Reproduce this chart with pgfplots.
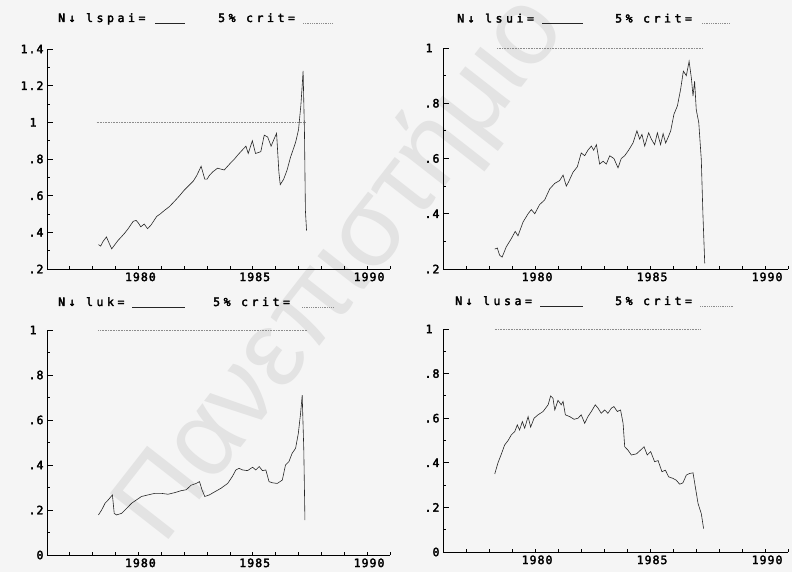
\documentclass[border=0pt]{standalone}
\usepackage{pgfplots}
\pgfplotsset{compat=1.18}
\usepackage{fontspec}
\setmainfont{Liberation Sans}
\newfontfamily\tickfont{DejaVu Sans Mono}[LetterSpace=9, FakeBold=3]
\newfontfamily\headfont{DejaVu Sans Mono}[LetterSpace=31, FakeBold=3]
\newfontfamily\markfont{Liberation Sans}

\pgfplotsset{
  panel/.style={
    scale only axis, anchor=south west,
    axis lines=left, axis line style={-, line width=0.9pt, black},
    xmin=1975, xmax=1990,
    xtick={1980,1985,1990}, xticklabels={1980,1985,1990},
    minor xtick={1976,...,1990},
    major x tick style={draw=none},
    tick align=inside,
    major tick length=6pt, minor tick length=3pt,
    tick style={black, line width=0.8pt},
    ticklabel style={font=\tickfont\fontsize{11.5}{11.5}\selectfont, text=black},
    xticklabel style={anchor=north east, xshift=-2pt},
    clip=false,
  },
  series/.style={black!85, line width=0.6pt},
  crit/.style={black!45, line width=0.6pt, densely dotted},
}

% panel heading: #1 baseline, #2 name x, #3 name, #4-#5 solid sample, #6 crit x, #7-#8 dotted sample
\newcommand{\panelhead}[8]{%
  \node[anchor=base west, inner sep=0pt, font=\headfont\fontsize{11.5}{11.5}\selectfont, text=black] at (#2pt,#1pt) {#3};
  \draw[black!85, line width=0.9pt] (#4pt,#1pt-1pt) -- (#5pt,#1pt-1pt);
  \node[anchor=base west, inner sep=0pt, font=\headfont\fontsize{11.5}{11.5}\selectfont, text=black] at (#6pt,#1pt) {5\% crit=};
  \draw[black!45, line width=0.8pt, densely dotted] (#7pt,#1pt-1pt) -- (#8pt,#1pt-1pt);
}

\begin{document}
\begin{tikzpicture}
\useasboundingbox (0pt,0pt) rectangle (792pt,572pt);
\fill[white!96!black] (0pt,0pt) rectangle (792pt,572pt);
\node[rotate=52, text=black!11, inner sep=0pt, font=\markfont\fontsize{108}{108}\selectfont] at (342pt,302pt) {Πανεπιστήμιο};

% ---- lspai ----
\panelhead{550}{58}{N↓ lspai=}{155}{185}{218}{303}{333}
\begin{axis}[panel, at={(47pt,303pt)}, width=343pt, height=220pt,
  ymin=0.2, ymax=1.4,
  ytick={0.2,0.4,0.6,0.8,1,1.2,1.4},
  yticklabels={.2,.4,.6,.8,1\hphantom{.},1.2,1.4},
  minor ytick={0.3,0.5,0.7,0.9,1.1,1.3}]
\addplot[crit] coordinates {(1977.17,1) (1986.3,1)};
\addplot[series] coordinates {
(1977.25,0.333) (1977.35,0.325) (1977.45,0.35) (1977.6,0.375) (1977.72,0.34)
(1977.83,0.31) (1977.95,0.33) (1978.1,0.355) (1978.25,0.375) (1978.4,0.396)
(1978.55,0.42) (1978.77,0.46) (1978.9,0.465) (1979.0,0.45) (1979.1,0.43)
(1979.25,0.445) (1979.4,0.42) (1979.55,0.44) (1979.8,0.487) (1979.95,0.50)
(1980.14,0.52) (1980.35,0.54) (1980.58,0.57) (1980.8,0.60) (1981.0,0.63)
(1981.2,0.655) (1981.4,0.68) (1981.55,0.71) (1981.74,0.76) (1981.9,0.69)
(1982.0,0.69) (1982.1,0.71) (1982.25,0.73) (1982.46,0.75) (1982.6,0.745)
(1982.75,0.74) (1983.04,0.78) (1983.2,0.80) (1983.33,0.82) (1983.55,0.85)
(1983.7,0.87) (1983.8,0.83) (1983.98,0.90) (1984.12,0.83) (1984.35,0.84)
(1984.5,0.93) (1984.65,0.92) (1984.8,0.87) (1984.9,0.90) (1985.04,0.94)
(1985.14,0.73) (1985.2,0.66) (1985.35,0.69) (1985.5,0.74) (1985.65,0.81)
(1985.87,0.89) (1986.0,0.96) (1986.1,1.09) (1986.16,1.20) (1986.2,1.28)
(1986.26,0.94) (1986.3,0.52) (1986.35,0.41)};
\end{axis}

% ---- lsui ----
\panelhead{549.5}{457}{N↓ lsui=}{542}{583}{615}{702}{730}
\begin{axis}[panel, at={(443pt,303pt)}, width=345pt, height=221pt,
  ymin=0.2, ymax=1,
  ytick={0.2,0.4,0.6,0.8,1},
  yticklabels={.2,.4,.6,.8,1\hphantom{.}},
  minor ytick={0.3,0.5,0.7,0.9}]
\addplot[crit] coordinates {(1977.36,1) (1986.3,1)};
\addplot[series] coordinates {
(1977.25,0.272) (1977.36,0.276) (1977.46,0.25) (1977.57,0.243) (1977.75,0.28)
(1977.97,0.31) (1978.14,0.336) (1978.26,0.32) (1978.48,0.37) (1978.70,0.40)
(1978.84,0.415) (1978.99,0.40) (1979.20,0.433) (1979.42,0.45) (1979.64,0.49)
(1979.86,0.51) (1980.07,0.52) (1980.22,0.54) (1980.36,0.50) (1980.46,0.515)
(1980.65,0.55) (1980.84,0.57) (1981.01,0.62) (1981.16,0.61) (1981.30,0.63)
(1981.45,0.645) (1981.55,0.63) (1981.67,0.65) (1981.81,0.58) (1981.96,0.59)
(1982.10,0.58) (1982.25,0.61) (1982.43,0.60) (1982.61,0.566) (1982.75,0.60)
(1982.90,0.61) (1983.07,0.63) (1983.26,0.656) (1983.43,0.70) (1983.55,0.67)
(1983.65,0.687) (1983.77,0.645) (1983.94,0.693) (1984.06,0.67) (1984.20,0.65)
(1984.32,0.693) (1984.46,0.65) (1984.57,0.69) (1984.68,0.656) (1984.78,0.675)
(1984.90,0.70) (1985.04,0.76) (1985.19,0.79) (1985.33,0.85) (1985.45,0.916)
(1985.58,0.90) (1985.70,0.952) (1985.80,0.89) (1985.87,0.826) (1985.94,0.88)
(1986.01,0.777) (1986.12,0.73) (1986.23,0.596) (1986.30,0.40) (1986.38,0.22)};
\end{axis}

% ---- luk ----
\panelhead{266}{58}{N↓ luk=}{132}{185}{213}{302}{333}
\begin{axis}[panel, at={(47pt,17pt)}, width=343pt, height=225pt,
  ymin=0, ymax=1,
  ytick={0,0.2,0.4,0.6,0.8,1},
  yticklabels={0,.2,.4,.6,.8,1\hphantom{.}},
  minor ytick={0.1,0.3,0.5,0.7,0.9}]
\addplot[crit] coordinates {(1977.25,1) (1986.38,1)};
\addplot[series] coordinates {
(1977.25,0.178) (1977.39,0.2) (1977.54,0.23) (1977.68,0.245) (1977.86,0.267)
(1977.94,0.185) (1978.04,0.178) (1978.26,0.185) (1978.48,0.207) (1978.7,0.23)
(1978.9,0.244) (1979.13,0.26) (1979.42,0.267) (1979.71,0.274) (1980,0.274)
(1980.29,0.27) (1980.58,0.277) (1980.87,0.286) (1981.09,0.29) (1981.3,0.31)
(1981.52,0.318) (1981.67,0.326) (1981.78,0.289) (1981.9,0.26) (1982.1,0.267)
(1982.32,0.28) (1982.6,0.296) (1982.9,0.318) (1983.1,0.348) (1983.26,0.378)
(1983.4,0.385) (1983.55,0.378) (1983.77,0.375) (1983.99,0.39) (1984.13,0.378)
(1984.28,0.393) (1984.42,0.375) (1984.57,0.378) (1984.71,0.326) (1984.86,0.321)
(1985.07,0.318) (1985.29,0.333) (1985.43,0.4) (1985.58,0.415) (1985.72,0.452)
(1985.87,0.474) (1985.99,0.54) (1986.09,0.63) (1986.16,0.71) (1986.23,0.467)
(1986.28,0.155)};
\end{axis}

% ---- lusa ----
\panelhead{267}{455}{N↓ lusa=}{540}{583}{615}{700}{733}
\begin{axis}[panel, at={(443pt,20pt)}, width=345pt, height=223pt,
  ymin=0, ymax=1,
  ytick={0,0.2,0.4,0.6,0.8,1},
  yticklabels={0,.2,.4,.6,.8,1\hphantom{.}},
  minor ytick={0.1,0.3,0.5,0.7,0.9}]
\addplot[crit] coordinates {(1977.25,1) (1986.16,1)};
\addplot[series] coordinates {
(1977.25,0.35) (1977.39,0.40) (1977.54,0.44) (1977.68,0.48) (1977.83,0.50)
(1977.97,0.525) (1978.12,0.54) (1978.23,0.57) (1978.33,0.547) (1978.45,0.585)
(1978.55,0.555) (1978.70,0.607) (1978.81,0.56) (1978.96,0.60) (1979.13,0.615)
(1979.35,0.63) (1979.57,0.66) (1979.68,0.70) (1979.78,0.69) (1979.86,0.637)
(1980.0,0.68) (1980.14,0.66) (1980.22,0.675) (1980.32,0.615) (1980.51,0.607)
(1980.70,0.595) (1980.87,0.60) (1981.01,0.615) (1981.16,0.577) (1981.30,0.607)
(1981.45,0.63) (1981.62,0.66) (1981.74,0.645) (1981.88,0.622) (1982.03,0.637)
(1982.17,0.622) (1982.32,0.645) (1982.43,0.652) (1982.58,0.63) (1982.72,0.637)
(1982.83,0.577) (1982.90,0.472) (1983.04,0.457) (1983.19,0.435) (1983.41,0.44)
(1983.59,0.457) (1983.74,0.472) (1983.88,0.435) (1984.03,0.45) (1984.20,0.405)
(1984.35,0.41) (1984.52,0.36) (1984.67,0.367) (1984.81,0.337) (1985.0,0.33)
(1985.14,0.322) (1985.29,0.304) (1985.43,0.31) (1985.58,0.345) (1985.72,0.352)
(1985.87,0.355) (1985.97,0.292) (1986.09,0.217) (1986.23,0.172) (1986.33,0.105)};
\end{axis}
\end{tikzpicture}
\end{document}
